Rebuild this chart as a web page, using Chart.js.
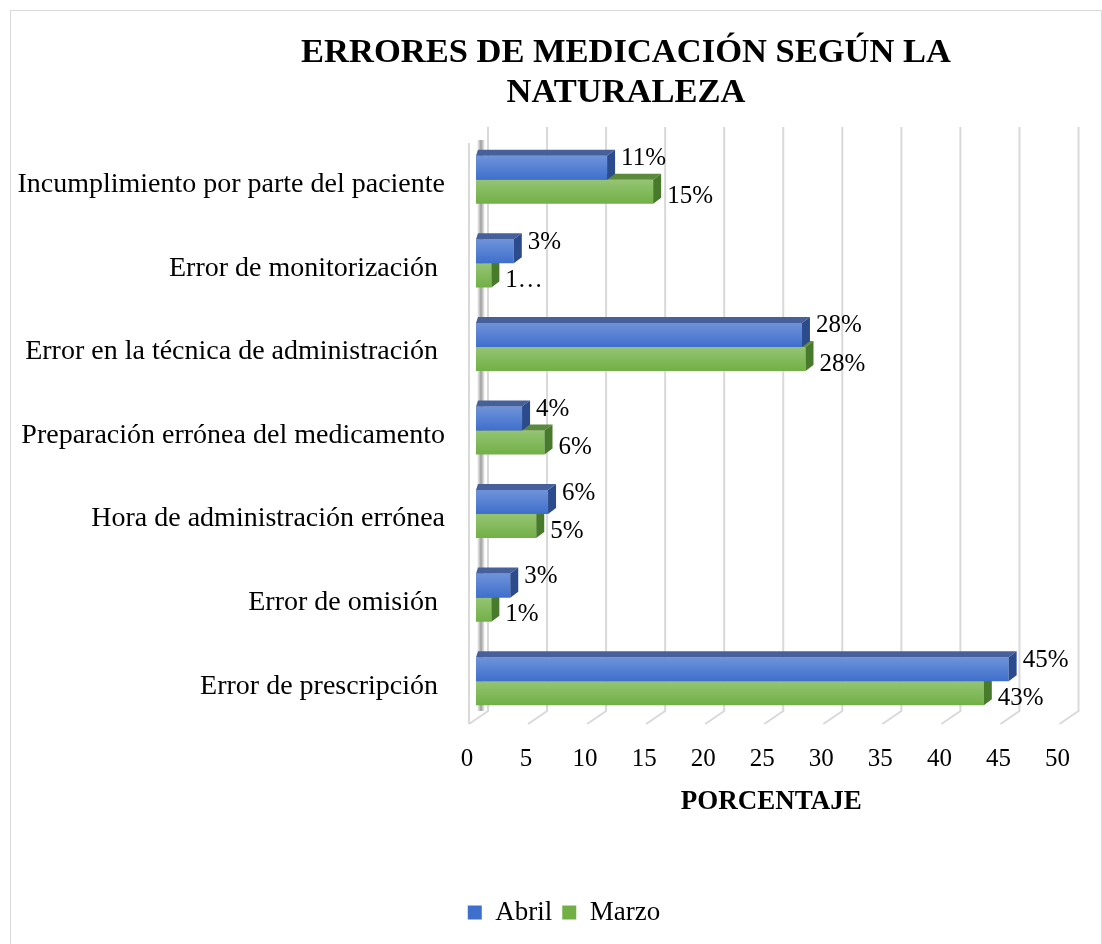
<!DOCTYPE html>
<html>
<head>
<meta charset="utf-8">
<script src="https://cdn.jsdelivr.net/npm/chart.js@4.4.0/dist/chart.umd.min.js"></script>
<style>
    body { margin: 0; background: #fff; }
    #frame { position: absolute; left: 10px; top: 10px; width: 1092px; height: 960px; border: 1px solid #d9d9d9; box-sizing: border-box; }
    #title { position: absolute; left: 176px; width: 900px; top: 30px; text-align: center; font: bold 34.5px "Liberation Serif", "Times New Roman", serif; line-height: 40px; color: #000; }
    #chart-box { position: absolute; left: 10px; top: 10px; width: 1090px; height: 934px; }
</style>
</head>
<body>
<div id="frame"></div>
<div id="chart-box"><canvas id="chart" width="1090" height="934"></canvas></div>
<div id="title">ERRORES DE MEDICACIÓN SEGÚN LA<br>NATURALEZA</div>
<script>
const categories = [
    'Incumplimiento por parte del paciente',
    'Error de monitorización ',
    'Error en la técnica de administración ',
    'Preparación errónea del medicamento',
    'Hora de administración errónea',
    'Error de omisión ',
    'Error de prescripción '
];
const abril = [11.1, 3.2, 27.6, 3.9, 6.1, 2.9, 45.1];
const marzo = [15.0, 1.3, 27.9, 5.8, 5.1, 1.3, 43.0];
const abrilText = ['11%', '3%', '28%', '4%', '6%', '3%', '45%'];
const marzoText = ['15%', '1…', '28%', '6%', '5%', '1%', '43%'];

const serif = '"Liberation Serif", "Times New Roman", serif';
const depthX = 8, depthY = 6;
const faces = [
    { top: '#46609c', side: '#2b4b8c', text: abrilText, dy: -9 },
    { top: '#5b8a3c', side: '#487a2b', text: marzoText, dy: 5 }
];

// fake 3d look: back wall grid, floor, bar top and side faces
const bar3d = {
    id: 'bar3d',
    afterLayout(chart) {
        // legend sits a bit right of the canvas centre in the original
        if (chart.legend) {
            chart.legend.left += 21;
            chart.legend.right += 21;
        }
    },
    beforeDatasetsDraw(chart) {
        const {ctx, chartArea, scales: {x}} = chart;
        ctx.save();
        ctx.strokeStyle = '#d9d9d9';
        ctx.lineWidth = 2;
        x.ticks.forEach(t => {
            const px = x.getPixelForValue(t.value);
            ctx.beginPath();
            ctx.moveTo(px + 12, chartArea.top - 11);
            ctx.lineTo(px + 12, chartArea.bottom - 12);
            ctx.lineTo(px - 7, chartArea.bottom + 1);
            ctx.stroke();
        });
        const x0 = x.getPixelForValue(0);
        ctx.beginPath();
        ctx.moveTo(x0 - 7, chartArea.top + 5);
        ctx.lineTo(x0 - 7, chartArea.bottom + 1);
        ctx.stroke();
        // shadow of the left wall
        const g = ctx.createLinearGradient(x0 + 1, 0, x0 + 9, 0);
        g.addColorStop(0, 'rgba(60,60,60,0)');
        g.addColorStop(0.5, 'rgba(60,60,60,0.5)');
        g.addColorStop(1, 'rgba(60,60,60,0)');
        ctx.fillStyle = g;
        ctx.fillRect(x0 + 1, chartArea.top + 2, 8, chartArea.bottom - chartArea.top - 14);
        ctx.restore();
    },
    afterDatasetDraw(chart, args) {
        const ctx = chart.ctx;
        const c = faces[args.index];
        ctx.save();
        args.meta.data.forEach(bar => {
            const {x, y, base, height} = bar.getProps(['x', 'y', 'base', 'height'], true);
            const t = y - height / 2, b = y + height / 2;
            const g = ctx.createLinearGradient(0, t, 0, b);
            g.addColorStop(0, 'rgba(255,255,255,0.25)');
            g.addColorStop(1, 'rgba(255,255,255,0)');
            ctx.fillStyle = g;
            ctx.fillRect(base, t, x - base, height);
            ctx.fillStyle = c.top;
            ctx.beginPath();
            ctx.moveTo(base, t);
            ctx.lineTo(x, t);
            ctx.lineTo(x + depthX, t - depthY);
            ctx.lineTo(base + 2, t - depthY);
            ctx.closePath();
            ctx.fill();
            ctx.fillStyle = c.side;
            ctx.beginPath();
            ctx.moveTo(x, t);
            ctx.lineTo(x + depthX, t - depthY);
            ctx.lineTo(x + depthX, b - depthY);
            ctx.lineTo(x, b);
            ctx.closePath();
            ctx.fill();
        });
        ctx.restore();
    },
    afterDatasetsDraw(chart) {
        const ctx = chart.ctx;
        ctx.save();
        ctx.font = '25px ' + serif;
        ctx.fillStyle = '#000';
        ctx.textBaseline = 'middle';
        ctx.textAlign = 'left';
        chart.data.datasets.forEach((ds, i) => {
            const c = faces[i];
            chart.getDatasetMeta(i).data.forEach((bar, j) => {
                ctx.fillText(c.text[j], bar.x + 14, bar.y + c.dy);
            });
        });
        ctx.restore();
    }
};

const chart = new Chart(document.getElementById('chart'), {
    type: 'bar',
    data: {
        labels: categories,
        datasets: [{
            label: 'Abril',
            data: abril,
            backgroundColor: '#3f6fcc',
            barPercentage: 1,
            categoryPercentage: 0.575
        }, {
            label: 'Marzo',
            data: marzo,
            backgroundColor: '#72b046',
            barPercentage: 1,
            categoryPercentage: 0.575
        }]
    },
    options: {
        indexAxis: 'y',
        responsive: false,
        animation: false,
        layout: { padding: { left: 8, right: 32, top: 128, bottom: 8 } },
        scales: {
            x: {
                min: 0,
                max: 50,
                ticks: { stepSize: 5, color: '#000', font: { family: serif, size: 25 }, padding: 21, labelOffset: -9, maxRotation: 0 },
                grid: { display: false, drawTicks: false },
                border: { display: false },
                title: { display: true, text: 'PORCENTAJE', color: '#000', font: { family: serif, size: 27, weight: 'bold' }, padding: { top: 8, bottom: 71 } },
                afterFit: scale => { scale.height = 166; }
            },
            y: {
                ticks: { color: '#000', font: { family: serif, size: 28 }, padding: 31, labelOffset: 5 },
                grid: { display: false, drawTicks: false },
                border: { display: false },
                afterFit: scale => { scale.width = 458; }
            }
        },
        plugins: {
            legend: {
                position: 'bottom',
                labels: { color: '#000', font: { family: serif, size: 27 }, boxWidth: 14, boxHeight: 14, padding: 10 }
            },
            title: { display: false },
            tooltip: { enabled: false }
        }
    },
    plugins: [bar3d]
});
</script>
</body>
</html>
